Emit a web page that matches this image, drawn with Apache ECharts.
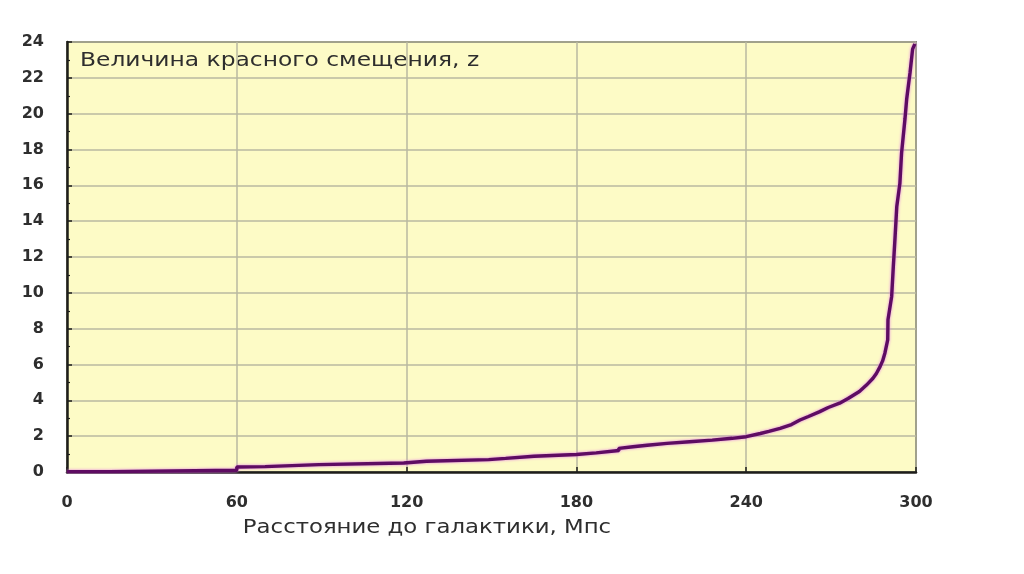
<!DOCTYPE html>
<html>
<head>
<meta charset="utf-8">
<script src="https://cdn.jsdelivr.net/npm/echarts@6/dist/echarts.min.js"></script>
<style>
html,body{margin:0;padding:0;background:#ffffff;}
#chart{width:1024px;height:574px;}
</style>
</head>
<body>
<div id="chart"></div>
<script>
// Distance to galaxy, Mpc
const distances = [0, 15, 15, 60, 60, 70, 70, 89, 89, 119, 119, 127, 127, 149, 149, 155, 155, 165, 165, 180, 180, 187, 187, 195, 195, 200, 205, 212, 220, 228, 235, 240, 245, 248, 252, 256, 259, 262, 266, 269, 273, 276, 280, 282.5, 284.8, 286, 287.3, 288.2, 289, 290, 290.1, 291.4, 292, 292.6, 293.2, 294.3, 294.9, 296.1, 296.7, 297.9, 298.8, 299.6];
// Redshift z
const redshifts = [0.02, 0.02, 0.1, 0.1, 0.28, 0.3, 0.39, 0.41, 0.48, 0.5, 0.58, 0.6, 0.67, 0.69, 0.74, 0.76, 0.86, 0.88, 0.95, 0.98, 1.04, 1.07, 1.17, 1.2, 1.32, 1.41, 1.49, 1.6, 1.69, 1.78, 1.88, 1.97, 2.15, 2.27, 2.44, 2.65, 2.9, 3.1, 3.37, 3.6, 3.84, 4.1, 4.49, 4.85, 5.23, 5.5, 5.88, 6.2, 6.63, 7.37, 8.5, 9.8, 11.5, 13.1, 14.8, 16.1, 17.8, 19.7, 20.8, 22.3, 23.6, 23.9];
const xTicks = [0, 60, 120, 180, 240, 300];
const yTicks = [0, 2, 4, 6, 8, 10, 12, 14, 16, 18, 20, 22, 24];
const yTitle = 'Величина красного смещения, z';
const xTitle = 'Расстояние до галактики, Мпс';

const chart = echarts.init(document.getElementById('chart'), null, {renderer: 'canvas'});
const pts = distances.map((d, i) => [d, redshifts[i]]);
const labelStyle = {fontFamily: 'DejaVu Sans', fontWeight: 'bold', fontSize: 16, color: '#2e2e2e'};

chart.setOption({
  animation: false,
  backgroundColor: '#ffffff',
  grid: {
    left: 67, right: 108, top: 42, bottom: 102,
    show: true, backgroundColor: '#fdfbc6', borderColor: '#2a2a22', borderWidth: 1.5
  },
  xAxis: {
    type: 'value',
    min: xTicks[0], max: xTicks[xTicks.length - 1], interval: 60,
    axisLine: {show: true, lineStyle: {color: '#1e1e1a', width: 2.5}},
    axisTick: {show: true, inside: true, length: 5, lineStyle: {color: '#1e1e1a', width: 1.5}},
    axisLabel: Object.assign({margin: 23}, labelStyle),
    splitLine: {show: true, lineStyle: {color: '#b9b8a0', width: 1.5}}
  },
  yAxis: {
    type: 'value',
    min: yTicks[0], max: yTicks[yTicks.length - 1], interval: 2,
    axisLine: {show: true, lineStyle: {color: '#1e1e1a', width: 2.5}},
    axisTick: {show: true, inside: true, length: 5, lineStyle: {color: '#1e1e1a', width: 1.5}},
    minorTick: {show: true, splitNumber: 2, length: 3, lineStyle: {color: '#1e1e1a', width: 1.2}},
    axisLabel: Object.assign({margin: 23}, labelStyle),
    splitLine: {show: true, lineStyle: {color: '#b9b8a0', width: 1.5}}
  },
  graphic: [{
    type: 'text', x: 80, y: 61, scaleX: 1.23,
    style: {text: yTitle, fontFamily: 'DejaVu Sans', fontSize: 19, fill: '#2e2e2e', textVerticalAlign: 'middle'}
  }, {
    type: 'text', x: 427, y: 528, scaleX: 1.2,
    style: {text: xTitle, fontFamily: 'DejaVu Sans', fontSize: 19, fill: '#2e2e2e', textAlign: 'center', textVerticalAlign: 'middle'}
  }],
  series: [{
    type: 'line',
    data: pts,
    showSymbol: false,
    lineStyle: {color: '#5e0c62', width: 3.4, shadowColor: '#e27ae6', shadowBlur: 3},
    z: 5
  }]
});
</script>
</body>
</html>
